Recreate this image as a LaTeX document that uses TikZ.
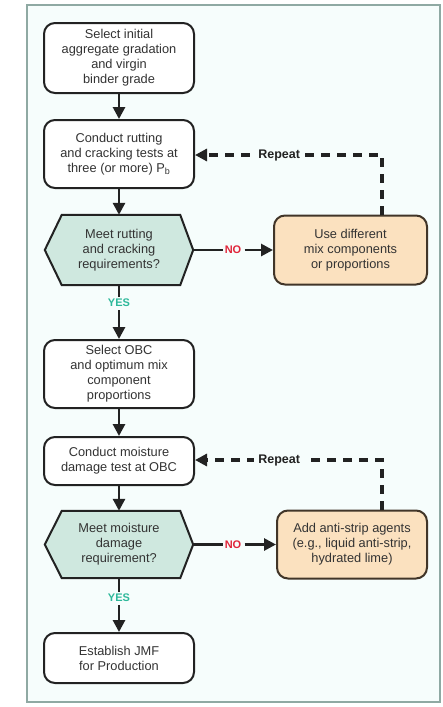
\documentclass[tikz,border=0pt]{standalone}
\usepackage{fontspec}
\setmainfont{Liberation Sans}
\usetikzlibrary{arrows.meta,calc}
\definecolor{framec}{HTML}{8FA9A3}
\definecolor{bgc}{HTML}{F6FDFC}
\definecolor{hexfill}{HTML}{CFE8DF}
\definecolor{orfill}{HTML}{FBE1BF}
\definecolor{linec}{HTML}{222222}
\definecolor{txtc}{HTML}{333333}
\definecolor{noc}{HTML}{E0253A}
\definecolor{yesc}{HTML}{2DB89A}
\tikzset{
  x=1pt,y=-1pt,
  txt/.style={font=\fontsize{12.8}{15}\selectfont, text=txtc, align=center},
  stepbox/.style={txt, draw=linec, line width=2pt, rounded corners=11pt, fill=white, minimum width=150pt, inner sep=2pt},
  orbox/.style={txt, draw=linec!80!brown, line width=2pt, rounded corners=11pt, fill=orfill, inner sep=2pt},
  hexin/.style={txt, minimum width=148pt, inner sep=2pt},
  hexshape/.style={draw=linec, line width=2pt, fill=hexfill},
  flow/.style={draw=linec, line width=2.8pt, -{Triangle[width=12pt,length=12pt]}},
  plain/.style={draw=linec, line width=2.8pt},
  rep/.style={draw=linec, line width=3.2pt, dash pattern=on 9pt off 7pt, -{Triangle[width=12pt,length=12pt]}},
  lbl/.style={font=\bfseries\fontsize{11}{13}\selectfont, fill=bgc, inner sep=2pt},
  replbl/.style={lbl, text=linec, font=\bfseries\fontsize{12.5}{14}\selectfont, inner xsep=4pt},
}
\begin{document}
\begin{tikzpicture}
\useasboundingbox (0,0) rectangle (442,707);
\fill[white] (0,0) rectangle (442,707);
\draw[framec, line width=1.8pt, fill=bgc] (27,5) rectangle (440,702);

% left column
\node[stepbox, minimum height=70pt] (b1) at (119,58) {Select initial\\aggregate gradation\\and virgin\\binder grade};
\node[stepbox, minimum height=68pt] (b2) at (119,154) {Conduct rutting\\and cracking tests at\\three (or more) P\textsubscript{b}};
\node[hexin, minimum height=70pt] (h1) at (119,250) {};
\node[stepbox, minimum height=68pt] (b3) at (119,374) {Select OBC\\and optimum mix\\component\\proportions};
\node[stepbox, minimum height=48pt] (b4) at (119,461) {Conduct moisture\\damage test at OBC};
\node[hexin, minimum height=67pt] (h2) at (119,544.5) {};
\node[stepbox, minimum height=50pt] (b5) at (119,658) {Establish JMF\\for Production};

% hexagon outlines and texts
\path[hexshape] (h1.west) -- ($(h1.north west)+(17,0)$) -- ($(h1.north east)+(-13,0)$) -- (h1.east) -- ($(h1.south east)+(-13,0)$) -- ($(h1.south west)+(17,0)$) -- cycle;
\node[hexin] (h1t) at (h1) {Meet rutting\\and cracking\\requirements?};
\path[hexshape] (h2.west) -- ($(h2.north west)+(17,0)$) -- ($(h2.north east)+(-13,0)$) -- (h2.east) -- ($(h2.south east)+(-13,0)$) -- ($(h2.south west)+(17,0)$) -- cycle;
\node[hexin] (h2t) at (h2) {Meet moisture\\damage\\requirement?};

% right column
\node[orbox, minimum width=153pt, minimum height=69pt] (o1) at (350.5,250) {Use different\\mix components\\or proportions};
\node[orbox, minimum width=150pt, minimum height=68pt] (o2) at (352,544.5) {Add anti-strip agents\\(e.g., liquid anti-strip,\\hydrated lime)};

% helper coordinates
\coordinate (r1) at (382,155);
\coordinate (r2) at (382,460);
\coordinate (n1) at (233,250);
\coordinate (n2) at (233,544.5);

% main flow
\draw[flow] (b1) -- (b2);
\draw[flow] (b2) -- (h1);
\draw[plain] (h1.south) -- (b3.north |- 0,303) node[lbl, text=yesc, pos=1] (yes1) {YES};
\draw[flow] (yes1.south) -- (b3.north);
\draw[flow] (b3) -- (b4);
\draw[flow] (b4) -- (h2);
\draw[plain] (h2.south) -- (b5.north |- 0,598) node[lbl, text=yesc, pos=1] (yes2) {YES};
\draw[flow] (yes2.south) -- (b5.north);

% NO branches
\draw[plain] (h1.east) -- (n1) node[lbl, text=noc, pos=1] (no1) {NO};
\draw[flow] (no1.east) -- (o1.west);
\draw[plain] (h2.east) -- (n2) node[lbl, text=noc, pos=1] (no2) {NO};
\draw[flow] (no2.east) -- (o2.west);

% repeat loops
\draw[rep] (o1.north -| r1) -- (r1) -- node[replbl, pos=0.55] {Repeat} (b2.east |- r1);
\draw[rep] (o2.north -| r2) -- (r2) -- node[replbl, pos=0.55] {Repeat} (b4.east |- r2);
\end{tikzpicture}
\end{document}
